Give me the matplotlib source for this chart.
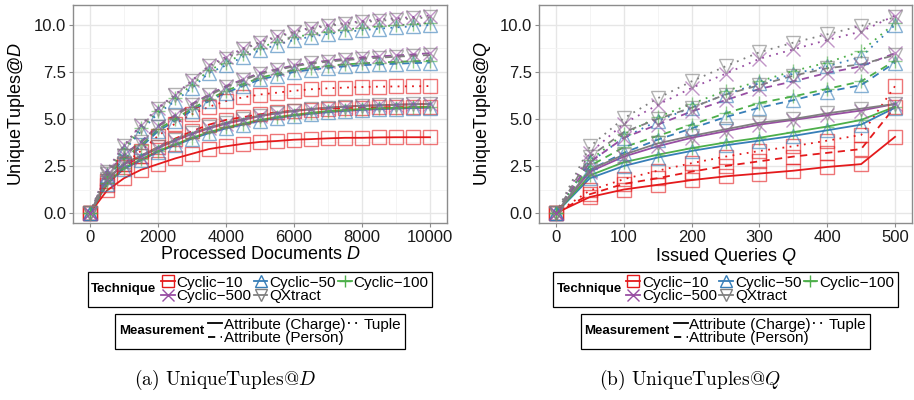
import matplotlib
matplotlib.use("Agg")
import matplotlib.pyplot as plt
from matplotlib.lines import Line2D
from matplotlib.ticker import MultipleLocator
from matplotlib.offsetbox import HPacker

plt.rcParams['font.family'] = 'Liberation Sans'
plt.rcParams['mathtext.fontset'] = 'custom'
plt.rcParams['mathtext.rm'] = 'Liberation Sans'
plt.rcParams['mathtext.it'] = 'Liberation Sans:italic'

# --- data -------------------------------------------------------------
techniques = ['Cyclic\u221210', 'Cyclic\u221250', 'Cyclic\u2212100', 'Cyclic\u2212500', 'QXtract']
measurements = ['Attribute (Charge)', 'Attribute (Person)', 'Tuple']

docs = [0, 500, 1000, 1500, 2000, 2500, 3000, 3500, 4000, 4500, 5000,
        5500, 6000, 6500, 7000, 7500, 8000, 8500, 9000, 9500, 10000]
queries = [0, 50, 100, 150, 200, 250, 300, 350, 400, 450, 500]

# UniqueTuples@D
d_c10_charge = [0, 1.2, 1.85, 2.3, 2.6, 2.9, 3.15, 3.4, 3.55, 3.68, 3.78, 3.83, 3.9, 3.93, 3.97, 4.0, 4.0, 4.02, 4.03, 4.03, 4.03]
d_c10_person = [0, 1.5, 2.45, 3.05, 3.5, 3.95, 4.35, 4.7, 4.95, 5.1, 5.25, 5.35, 5.45, 5.5, 5.55, 5.58, 5.6, 5.62, 5.63, 5.64, 5.65]
d_c10_tuple = [0, 1.7, 2.6, 3.3, 4.1, 4.75, 5.25, 5.65, 5.95, 6.15, 6.3, 6.4, 6.5, 6.58, 6.63, 6.67, 6.7, 6.72, 6.73, 6.74, 6.75]
d_c50_charge = [0, 1.55, 2.35, 2.8, 3.25, 3.6, 3.95, 4.25, 4.5, 4.7, 4.9, 5.05, 5.18, 5.28, 5.36, 5.43, 5.48, 5.52, 5.55, 5.58, 5.6]
d_c50_person = [0, 1.9, 2.85, 3.5, 4.35, 4.9, 5.45, 5.95, 6.4, 6.75, 7.1, 7.3, 7.5, 7.62, 7.72, 7.8, 7.86, 7.9, 7.94, 7.97, 8.0]
d_c50_tuple = [0, 2.0, 3.3, 4.35, 5.3, 5.95, 6.65, 7.45, 7.85, 8.3, 8.65, 8.95, 9.2, 9.38, 9.52, 9.63, 9.72, 9.8, 9.87, 9.93, 10.0]
d_c100_charge = [0, 1.6, 2.4, 2.85, 3.3, 3.65, 4.0, 4.3, 4.55, 4.75, 4.95, 5.1, 5.22, 5.33, 5.42, 5.48, 5.53, 5.57, 5.6, 5.63, 5.65]
d_c100_person = [0, 1.95, 2.9, 3.6, 4.45, 5.0, 5.55, 6.05, 6.5, 6.85, 7.2, 7.4, 7.6, 7.72, 7.82, 7.9, 7.96, 8.0, 8.04, 8.07, 8.1]
d_c100_tuple = [0, 2.1, 3.4, 4.5, 5.4, 6.1, 6.8, 7.6, 8.0, 8.45, 8.8, 9.1, 9.35, 9.5, 9.65, 9.75, 9.85, 9.92, 9.98, 10.04, 10.1]
d_c500_charge = [0, 1.75, 2.6, 3.0, 3.45, 3.85, 4.2, 4.5, 4.75, 4.95, 5.15, 5.3, 5.42, 5.52, 5.6, 5.65, 5.7, 5.73, 5.76, 5.78, 5.8]
d_c500_person = [0, 2.1, 3.1, 3.8, 4.65, 5.2, 5.8, 6.3, 6.75, 7.1, 7.45, 7.65, 7.85, 8.0, 8.1, 8.2, 8.27, 8.33, 8.38, 8.43, 8.5]
d_c500_tuple = [0, 2.3, 3.6, 4.7, 5.6, 6.3, 7.05, 7.85, 8.3, 8.75, 9.1, 9.4, 9.65, 9.85, 10.0, 10.1, 10.2, 10.3, 10.35, 10.42, 10.5]
d_qx_charge = [0, 1.8, 2.65, 3.05, 3.5, 3.9, 4.25, 4.55, 4.8, 5.0, 5.18, 5.32, 5.44, 5.53, 5.6, 5.66, 5.7, 5.73, 5.76, 5.78, 5.8]
d_qx_person = [0, 2.05, 3.05, 3.75, 4.6, 5.15, 5.75, 6.25, 6.7, 7.05, 7.4, 7.6, 7.8, 7.95, 8.05, 8.13, 8.2, 8.26, 8.31, 8.36, 8.4]
d_qx_tuple = [0, 2.2, 3.55, 4.65, 5.55, 6.25, 7.0, 7.8, 8.2, 8.7, 9.05, 9.35, 9.6, 9.8, 9.95, 10.05, 10.15, 10.22, 10.28, 10.35, 10.4]

# UniqueTuples@Q
q_c10_charge = [0, 0.85, 1.25, 1.5, 1.75, 1.95, 2.1, 2.25, 2.45, 2.6, 4.05]
q_c10_person = [0, 1.0, 1.55, 1.85, 2.2, 2.5, 2.75, 3.0, 3.2, 3.4, 5.65]
q_c10_tuple = [0, 1.2, 1.8, 2.25, 2.65, 3.0, 3.3, 3.55, 3.85, 4.15, 6.75]
q_c50_charge = [0, 1.85, 2.5, 2.95, 3.3, 3.6, 3.85, 4.1, 4.4, 4.7, 5.6]
q_c50_person = [0, 2.3, 3.2, 3.9, 4.5, 5.1, 5.6, 6.0, 6.45, 6.8, 8.0]
q_c50_tuple = [0, 2.7, 4.0, 4.9, 5.6, 6.3, 6.9, 7.4, 7.8, 8.3, 10.0]
q_c100_charge = [0, 2.0, 2.7, 3.1, 3.45, 3.75, 4.0, 4.3, 4.6, 4.95, 5.65]
q_c100_person = [0, 2.5, 3.5, 4.1, 4.7, 5.3, 5.85, 6.2, 6.6, 7.0, 8.1]
q_c100_tuple = [0, 2.8, 4.2, 5.1, 5.8, 6.5, 7.0, 7.55, 8.0, 8.6, 10.1]
q_c500_charge = [0, 2.2, 3.0, 3.55, 4.0, 4.35, 4.7, 4.95, 5.2, 5.45, 5.8]
q_c500_person = [0, 2.7, 4.0, 4.7, 5.4, 6.0, 6.6, 7.0, 7.45, 7.8, 8.5]
q_c500_tuple = [0, 3.2, 4.75, 5.75, 6.65, 7.4, 8.2, 8.7, 9.2, 9.65, 10.5]
q_qx_charge = [0, 2.3, 3.1, 3.7, 4.1, 4.45, 4.8, 5.0, 5.3, 5.55, 5.8]
q_qx_person = [0, 3.0, 4.3, 5.0, 5.6, 6.3, 6.8, 7.3, 7.7, 7.9, 8.4]
q_qx_tuple = [0, 3.54, 5.04, 6.1, 7.0, 7.8, 8.55, 9.06, 9.5, 9.95, 10.4]

colors = ['#E41A1C', '#377EB8', '#4DAF4A', '#984EA3', '#808080']
markers = ['s', '^', '+', 'x', 'v']
styles = ['-', (0, (4, 3)), (0, (1, 3))]

series_d = [[d_c10_charge, d_c10_person, d_c10_tuple],
            [d_c50_charge, d_c50_person, d_c50_tuple],
            [d_c100_charge, d_c100_person, d_c100_tuple],
            [d_c500_charge, d_c500_person, d_c500_tuple],
            [d_qx_charge, d_qx_person, d_qx_tuple]]
series_q = [[q_c10_charge, q_c10_person, q_c10_tuple],
            [q_c50_charge, q_c50_person, q_c50_tuple],
            [q_c100_charge, q_c100_person, q_c100_tuple],
            [q_c500_charge, q_c500_person, q_c500_tuple],
            [q_qx_charge, q_qx_person, q_qx_tuple]]


def draw_panel(ax, xs, series, xstep):
    for t in range(len(techniques)):
        for m in range(len(measurements)):
            ys = series[t][m]
            ax.plot(xs, ys, color=colors[t], ls=styles[m], lw=1.3, zorder=3)
            ax.plot(xs, ys, ls='none', marker=markers[t], ms=9.5, mfc='none',
                    mec=colors[t], mew=1.0, alpha=0.6, zorder=4)
    ax.set_ylim(-0.53, 11.06)
    ax.yaxis.set_major_locator(MultipleLocator(2.5))
    ax.yaxis.set_minor_locator(MultipleLocator(1.25))
    ax.xaxis.set_major_locator(MultipleLocator(xstep))
    ax.xaxis.set_minor_locator(MultipleLocator(xstep / 2))
    ax.yaxis.set_major_formatter(matplotlib.ticker.FormatStrFormatter('%.1f'))
    ax.grid(which='major', color='#E6E6E6', lw=1.0, zorder=0)
    ax.grid(which='minor', color='#F3F3F3', lw=0.6, zorder=0)
    ax.set_axisbelow(True)
    for s in ax.spines.values():
        s.set_color('#8C8C8C')
        s.set_linewidth(1.0)
    ax.tick_params(which='major', labelsize=12, length=3, color='#8C8C8C',
                   labelcolor='#1A1A1A', pad=2)
    ax.tick_params(which='minor', length=0)


def boxed_legend(fig, handles, labels, title, x, y, ncol):
    leg = fig.legend(handles, labels, title=title, ncol=ncol, loc='upper center',
                     bbox_to_anchor=(x, y), borderaxespad=0, frameon=True,
                     fancybox=False, edgecolor='black', fontsize=11,
                     handlelength=0.9, handletextpad=0.12, columnspacing=0.15,
                     labelspacing=-0.05, borderpad=0.25, framealpha=1)
    leg.get_title().set_fontweight('bold')
    leg.get_title().set_fontsize(9.5)
    leg.get_frame().set_linewidth(0.9)
    # move the title to the left of the entries, ggplot style
    box = leg.get_children()[0]
    title_box, hpack = box.get_children()
    outer = HPacker(children=[title_box, hpack], align='center', pad=0, sep=3)
    outer.set_figure(fig)
    box._children = [outer]
    return leg


fig = plt.figure(figsize=(9.14, 4.0), dpi=100)
ax1 = fig.add_axes([73 / 914, 177 / 400, 374 / 914, 218 / 400])
ax2 = fig.add_axes([539 / 914, 177 / 400, 373 / 914, 218 / 400])

draw_panel(ax1, docs, series_d, 2000)
ax1.set_xlim(-500, 10500)
ax1.set_xlabel(r'Processed Documents $D$', fontsize=13, labelpad=1)
ax1.set_ylabel(r'UniqueTuples@$D$', fontsize=13, labelpad=5)

draw_panel(ax2, queries, series_q, 100)
ax2.set_xlim(-25, 525)
ax2.set_xlabel(r'Issued Queries $Q$', fontsize=13, labelpad=1)
ax2.set_ylabel(r'UniqueTuples@$Q$', fontsize=13, labelpad=5)

# legends (row-major order for ncol=3)
tech_handles = [Line2D([], [], color=colors[t], marker=markers[t], ms=9, mfc='none',
                       mew=1.0, lw=1.3) for t in range(5)]
order = [0, 3, 1, 4, 2]
meas_handles = [Line2D([], [], color='black', ls=styles[m], lw=1.3) for m in range(3)]

for cx in (260 / 914, 725.5 / 914):
    boxed_legend(fig, [tech_handles[i] for i in order], [techniques[i] for i in order],
                 'Technique', cx, 0.32, 3)
    boxed_legend(fig, meas_handles, measurements, 'Measurement', cx, 0.215, 2)

fig.text(225 / 914, 1 - 380 / 400, r'(a) UniqueTuples@$D$', ha='center', va='center',
         fontsize=14, family='cmr10', math_fontfamily='cm')
fig.text(690 / 914, 1 - 380 / 400, r'(b) UniqueTuples@$Q$', ha='center', va='center',
         fontsize=14, family='cmr10', math_fontfamily='cm')

fig.savefig('out.png', dpi=100)
